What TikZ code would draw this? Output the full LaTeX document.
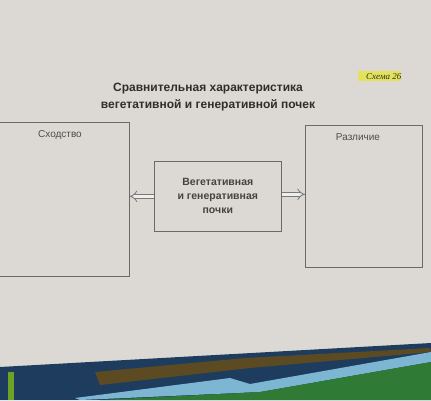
\documentclass[tikz,border=0pt]{standalone}
\usepackage{fontspec}
\setmainfont{Liberation Sans}
\newfontfamily\schemafont{Liberation Serif}
\usetikzlibrary{arrows.meta}
\definecolor{paper}{HTML}{DCD9D4}
\definecolor{ink}{HTML}{2E2E2E}
\definecolor{boxline}{HTML}{6A6A6A}
\definecolor{hilite}{HTML}{E2E35A}
\definecolor{coverblue}{HTML}{1E3C5E}
\definecolor{coverbrown}{HTML}{5C4A22}
\definecolor{coverlight}{HTML}{7DB6D2}
\definecolor{covergreen}{HTML}{2F7A34}
\tikzset{
  panel/.style={draw=boxline, line width=0.6pt, rectangle, inner sep=0pt},
  paneltitle/.style={font=\fontsize{10}{11}\selectfont, text=ink!85, anchor=north},
  dblarrow/.style={draw=boxline!90, double=white!55!paper, double distance=3.2pt, line width=0.8pt, -{Implies[length=6pt]}},
}
\begin{document}
\begin{tikzpicture}[x=1pt,y=1pt]
\useasboundingbox (0,0) rectangle (431,-400);
% page
\fill[paper] (0,0) rectangle (431,-400);
% book cover at bottom
\fill[coverblue] (0,-367) -- (431,-343) -- (431,-400) -- (0,-400) -- cycle;
\fill[coverbrown] (95,-372) -- (245,-358) -- (430,-348) -- (431,-352) -- (250,-368) -- (100,-385) -- cycle;
\fill[coverlight] (75,-398) -- (230,-378) -- (250,-384) -- (431,-352) -- (431,-362) -- (260,-392) -- (80,-400) -- cycle;
\fill[covergreen] (100,-400) -- (260,-392) -- (431,-362) -- (431,-400) -- cycle;
\fill[covergreen!70!yellow] (8,-372) rectangle (14,-400);
% schema label
\fill[hilite] (358,-71) rectangle (401,-81);
\node[font=\schemafont\itshape\fontsize{9}{10}\selectfont, text=ink, anchor=east] (schema) at (405,-77) {Схема 26};
% title
\node[font=\bfseries\fontsize{12}{17.5}\selectfont, text=ink, align=center] (title) at (208,-97)
  {Сравнительная характеристика\\вегетативной и генеративной почек};
% boxes
\node[panel, minimum width=134pt, minimum height=154pt, anchor=north west] (left) at (-5,-122) {};
\node[paneltitle] (lefttitle) at (60,-127) {Сходство};
\node[panel, minimum width=117pt, minimum height=142pt, anchor=north west] (right) at (305,-125) {};
\node[paneltitle] (righttitle) at (358,-130) {Различие};
\node[panel, minimum width=127pt, minimum height=70pt, anchor=north west, font=\bfseries\fontsize{10.5}{14}\selectfont, text=ink!90, align=center] (center) at (154,-161)
  {Вегетативная\\и генеративная\\почки};
% connectors
\draw[dblarrow] (center.west) -- (center.west -| left.east);
\draw[dblarrow] ([yshift=2pt]center.east) -- ([yshift=2pt]center.east -| right.west);
\end{tikzpicture}
\end{document}
